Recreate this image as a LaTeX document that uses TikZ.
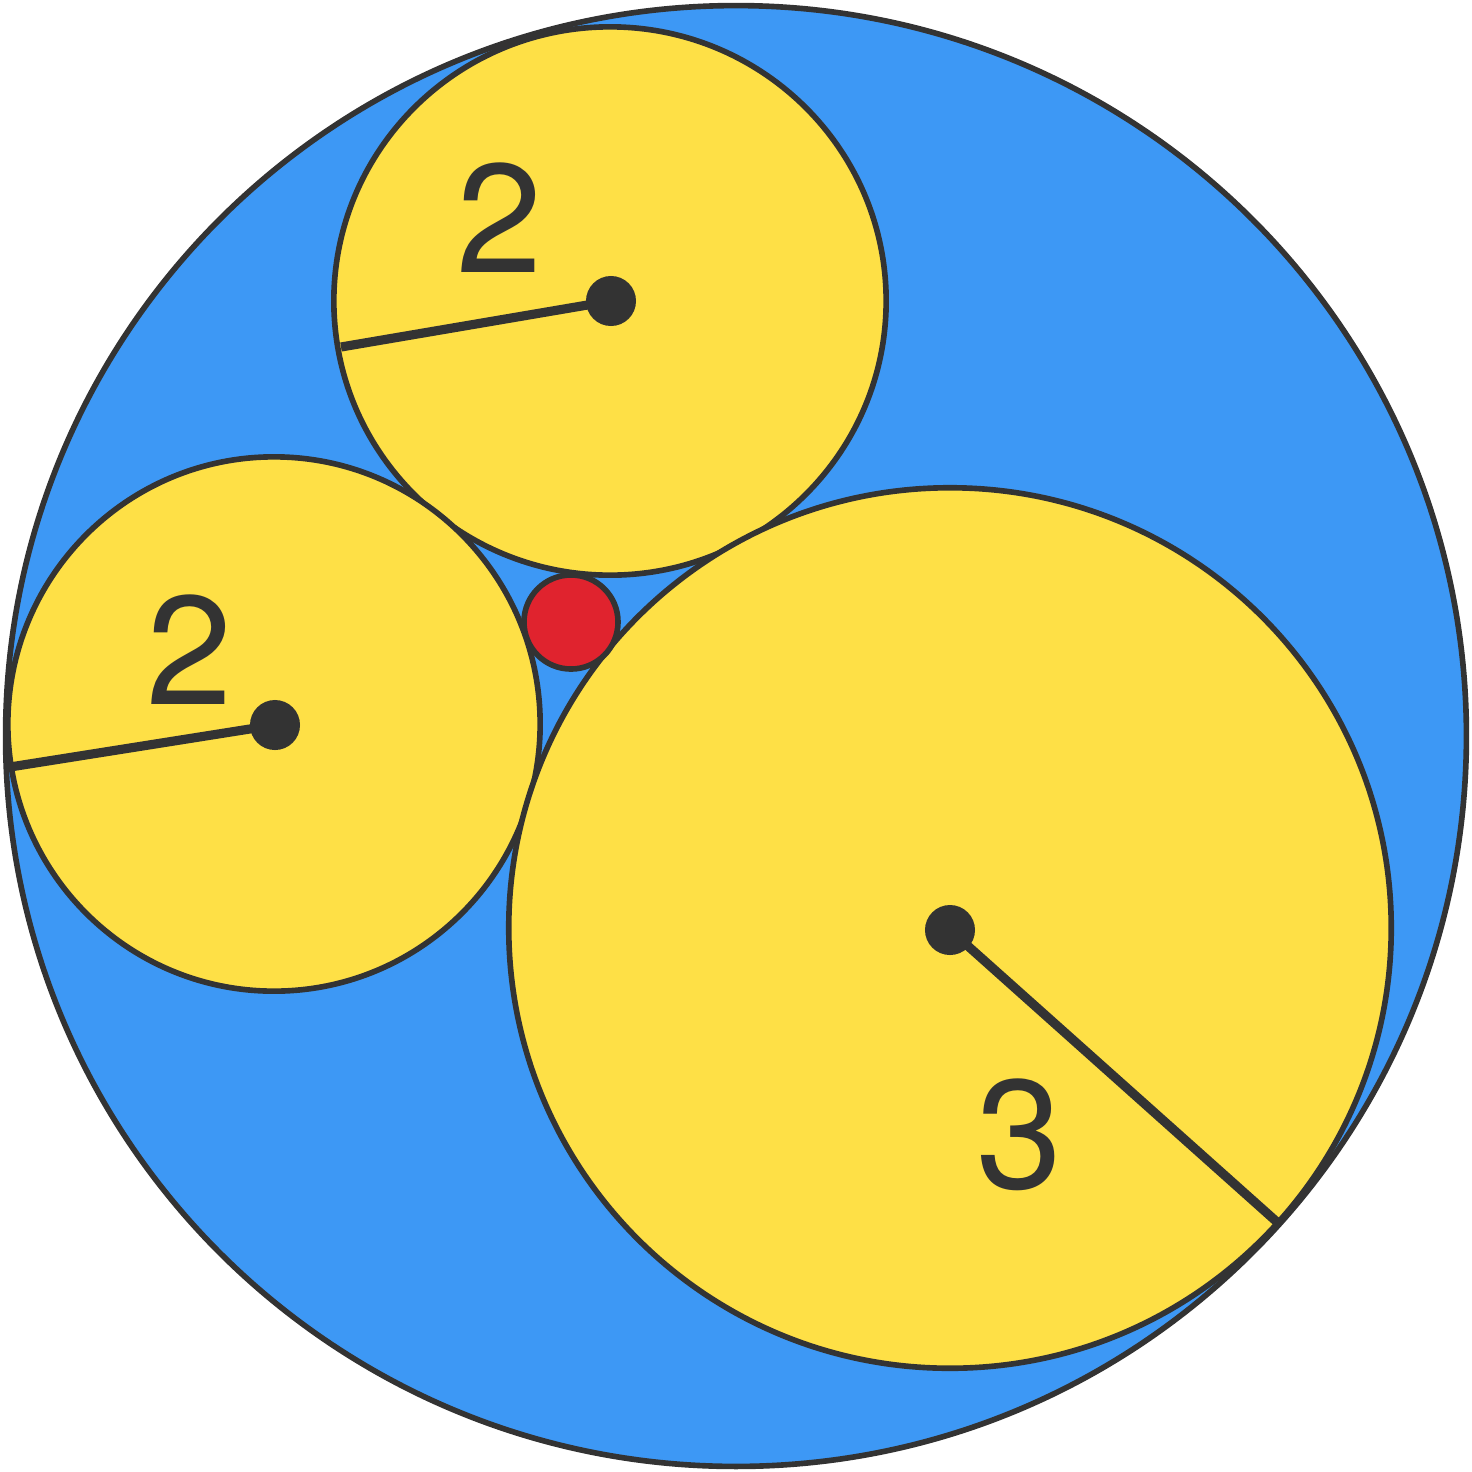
\documentclass[tikz,border=0pt]{standalone}
\usepackage{fontspec}
\setmainfont{TeX Gyre Heros}
\definecolor{bluebg}{HTML}{3D98F5}
\definecolor{yel}{HTML}{FEE046}
\definecolor{redc}{HTML}{E0232E}
\definecolor{ink}{HTML}{333333}
\begin{document}
\begin{tikzpicture}[x=0.01cm,y=-0.01cm,
  disc/.style={draw=ink,line width=1.6pt},
  radius line/.style={draw=ink,line width=2.6pt},
  dot/.style={fill=ink},
  lbl/.style={text=ink,font=\fontsize{44}{44}\selectfont}]
\useasboundingbox (0,0) rectangle (1472,1472);
\draw[disc,fill=bluebg] (736,736) ellipse (7.30cm and 7.30cm);
\draw[disc,fill=yel] (610,301) ellipse (2.76cm and 2.74cm);
\draw[disc,fill=yel] (274,724) ellipse (2.66cm and 2.67cm);
\draw[disc,fill=yel] (950,928) ellipse (4.41cm and 4.40cm);
\draw[disc,fill=redc] (571,622) circle (0.47cm);
\coordinate (c1) at (611,301); \coordinate (e1) at (341,347);
\coordinate (c2) at (275,725); \coordinate (e2) at (10,767);
\coordinate (c3) at (950,930); \coordinate (e3) at (1277,1222);
\draw[radius line] (c1) -- (e1);
\draw[radius line] (c2) -- (e2);
\draw[radius line] (c3) -- (e3);
\fill[dot] (c1) circle (0.25cm);
\fill[dot] (c2) circle (0.25cm);
\fill[dot] (c3) circle (0.25cm);
\node[lbl] (l1) at (500,218) {2};
\node[lbl] (l2) at (190,650) {2};
\node[lbl] (l3) at (1020,1135) {3};
\end{tikzpicture}
\end{document}
